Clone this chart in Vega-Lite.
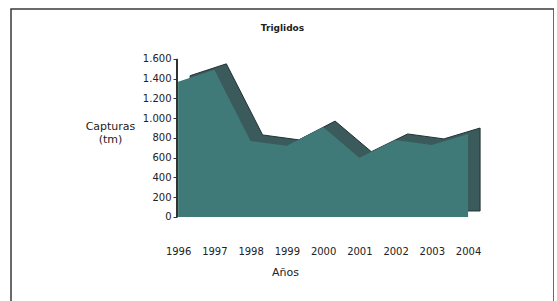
{
  "$schema": "https://vega.github.io/schema/vega-lite/v6.json",
  "autosize": "none",
  "padding": {"left": 11, "top": 9, "right": 0, "bottom": 0},
  "width": 543,
  "height": 300,
  "background": "white",
  "config": {
    "view": {"stroke": "#3a3a3a", "strokeWidth": 1.5},
    "font": "DejaVu Sans"
  },
  "title": {
    "text": "Triglidos",
    "fontSize": 9,
    "fontWeight": "bold",
    "color": "#222",
    "font": "DejaVu Sans",
    "anchor": "middle",
    "frame": "group",
    "baseline": "middle",
    "offset": -28,
    "dx": 0
  },
  "data": {
    "values": [
      {"year": 1996, "capturas": 1370},
      {"year": 1997, "capturas": 1490},
      {"year": 1998, "capturas": 770},
      {"year": 1999, "capturas": 720},
      {"year": 2000, "capturas": 910},
      {"year": 2001, "capturas": 600},
      {"year": 2002, "capturas": 780},
      {"year": 2003, "capturas": 730},
      {"year": 2004, "capturas": 840}
    ]
  },
  "encoding": {
    "x": {"field": "year", "type": "quantitative", "scale": {"domain": [1991.39, 2006.37], "nice": false, "zero": false},
      "axis": {"orient": "bottom", "offset": -67, "domain": false, "ticks": false, "grid": false, "values": [1996,1997,1998,1999,2000,2001,2002,2003,2004], "format": "d", "labelFontSize": 10, "labelColor": "#222", "labelPadding": 4, "labelOverlap": false, "title": "Años", "titleFontSize": 11, "titleFontWeight": "normal", "titleColor": "#222", "titleX": 274, "titleY": 30, "titleAnchor": null, "titleAlign": "center", "titleBaseline": "middle"}},
    "y": {"field": "capturas", "type": "quantitative", "scale": {"domain": [-932, 2106], "nice": false, "zero": false},
      "axis": {"orient": "left", "offset": -166, "domain": false, "grid": false, "values": [0,200,400,600,800,1000,1200,1400,1600], "tickCount": 20, "labelExpr": "replace(format(datum.value, ','), ',', '.')", "labelFontSize": 10, "labelColor": "#222", "labelOverlap": false, "labelBound": false, "tickSize": 4, "tickColor": "#333", "labelPadding": 2,
        "title": ["Capturas", "(tm)"], "titleAngle": 0, "titleFontSize": 11, "titleFontWeight": "normal", "titleColor": "#222", "titleAlign": "center", "titleBaseline": "top", "titleX": -67, "titleY": 111, "titleLineHeight": 13}}
  },
  "layer": [
    {
      "mark": {"type": "area", "color": "#3a5a5b", "stroke": "#223232", "strokeWidth": 1, "xOffset": 12, "yOffset": -6, "y2Offset": -6}
    },
    {
      "mark": {"type": "area", "color": "#3f7a78"}
    },
    {
      "mark": {"type": "rule", "color": "#333", "strokeWidth": 1},
      "encoding": {
        "x": {"datum": 1995.97},
        "y": {"datum": 0},
        "y2": {"datum": 1600}
      }
    }
  ]
}
